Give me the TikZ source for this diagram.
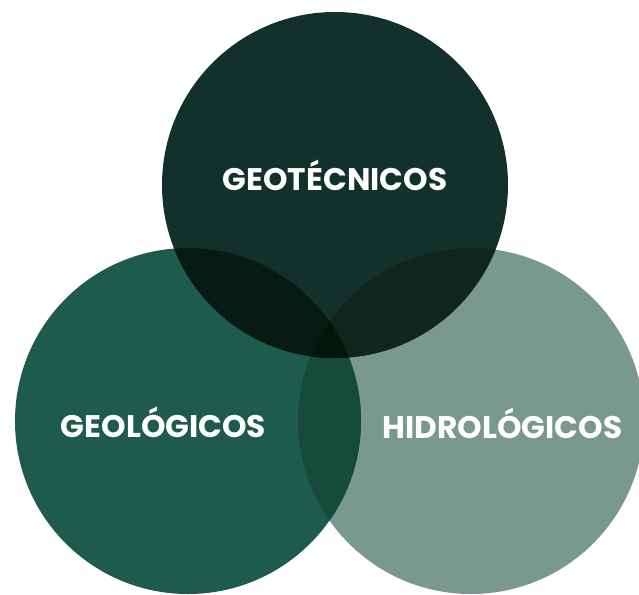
\documentclass[tikz,border=0pt]{standalone}
\usepackage{fontspec}
\setmainfont{Poppins}
\definecolor{cT}{HTML}{12312B}
\definecolor{cL}{HTML}{1F5B4D}
\definecolor{cR}{HTML}{7A998E}
\definecolor{cTL}{HTML}{081B12}
\definecolor{cTR}{HTML}{10251C}
\definecolor{cLR}{HTML}{164A3B}
\definecolor{cTLR}{HTML}{04150C}
\tikzset{lbl/.style={text=white, font=\fontsize{31.2}{36}\selectfont\bfseries, inner sep=0pt, anchor=base}}
\begin{document}
\begin{tikzpicture}[x=1pt,y=-1pt]
\useasboundingbox (0,0) rectangle (639,594);
\clip (0,0) rectangle (639,594);
\def\rad{173}
\coordinate (T) at (335,185);
\coordinate (L) at (188,421);
\coordinate (R) at (471,421);
\fill[cR] (R) circle (\rad);
\fill[cL] (L) circle (\rad);
\begin{scope}\clip (L) circle (\rad); \fill[cLR] (R) circle (\rad);\end{scope}
\fill[cT] (T) circle (\rad);
\begin{scope}\clip (T) circle (\rad); \fill[cTL] (L) circle (\rad);\end{scope}
\begin{scope}\clip (T) circle (\rad); \fill[cTR] (R) circle (\rad);\end{scope}
\begin{scope}\clip (T) circle (\rad); \clip (L) circle (\rad); \fill[cTLR] (R) circle (\rad);\end{scope}
\node[lbl] (tT) at (335,190) {GEOTÉCNICOS};
\node[lbl] (tL) at (163.5,437) {GEOLÓGICOS};
\node[lbl] (tR) at (502.5,438) {HIDROLÓGICOS};
\end{tikzpicture}
\end{document}
